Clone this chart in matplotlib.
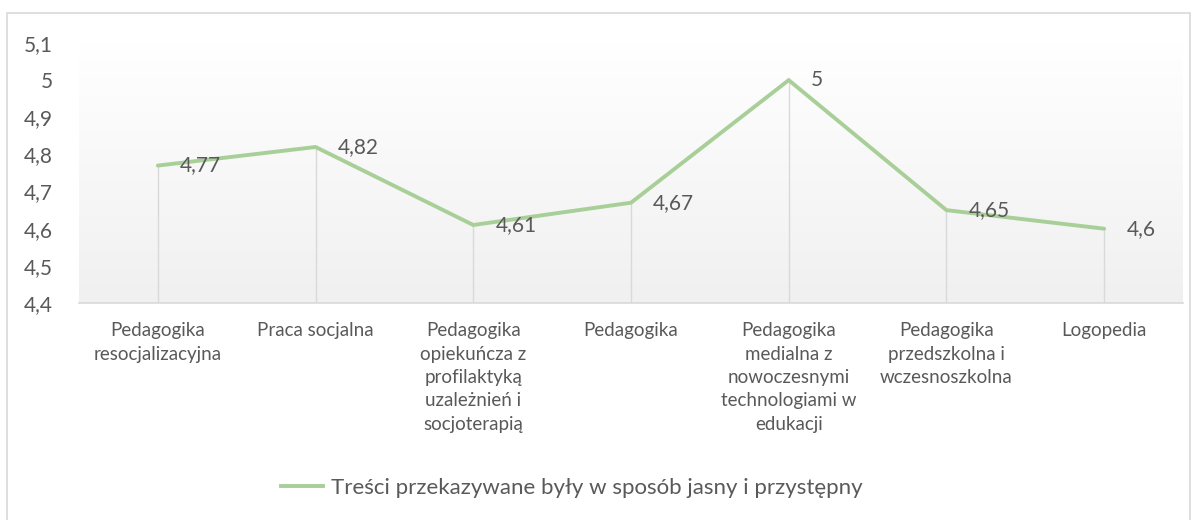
import matplotlib
matplotlib.use("Agg")
import matplotlib.pyplot as plt
import numpy as np
from matplotlib.patches import Rectangle
from matplotlib.lines import Line2D

categories = [
    "Pedagogika\nresocjalizacyjna",
    "Praca socjalna",
    "Pedagogika\nopiekuńcza z\nprofilaktyką\nuzależnień i\nsocjoterapią",
    "Pedagogika",
    "Pedagogika\nmedialna z\nnowoczesnymi\ntechnologiami w\nedukacji",
    "Pedagogika\nprzedszkolna i\nwczesnoszkolna",
    "Logopedia",
]
values = [4.77, 4.82, 4.61, 4.67, 5.0, 4.65, 4.6]
value_labels = ["4,77", "4,82", "4,61", "4,67", "5", "4,65", "4,6"]
yticks = [4.4, 4.5, 4.6, 4.7, 4.8, 4.9, 5.0, 5.1]
ytick_labels = ["4,4", "4,5", "4,6", "4,7", "4,8", "4,9", "5", "5,1"]
series_name = "Treści przekazywane były w sposób jasny i przystępny"

plt.rcParams['font.family'] = ['Lato', 'DejaVu Sans']
text_color = "#595959"
line_color = "#A9CF98"
grid_color = "#D9D9D9"

W, H = 1198, 520
fig = plt.figure(figsize=(W / 100, H / 100), dpi=100)
fig.patch.set_facecolor("white")

# outer chart border
fig.add_artist(Rectangle((7 / W, -0.05), (1190 - 7) / W, 1 - 13 / H + 0.05,
                         transform=fig.transFigure, fill=False,
                         edgecolor=grid_color, lw=1.2))

ax = fig.add_axes([79 / W, 1 - 303 / H, (1183 - 79) / W, (303 - 43) / H])
ax.set_facecolor("none")

x = np.arange(len(categories))

# gradient background in plot area
grad = np.linspace(0, 1, 256).reshape(-1, 1)
top = np.array([1.0, 1.0, 1.0])
bot = np.array([0xF0, 0xF0, 0xF0]) / 255
img = top + (bot - top) * grad[..., None]
img = img.reshape(256, 1, 3)
ax.imshow(img, extent=[0, 1, 0, 1], transform=ax.transAxes, aspect="auto",
          zorder=0, interpolation="bilinear")
ax.set_xlim(-0.5, len(categories) - 0.5)
ax.set_ylim(4.4, 5.1)

# drop lines
ax.vlines(x, 4.4, values, colors=grid_color, lw=1.0, zorder=1)

ax.plot(x, values, color=line_color, lw=2.8, solid_capstyle="round",
        solid_joinstyle="miter", zorder=3)

for xi, v, lab in zip(x, values, value_labels):
    ax.annotate(lab, (xi, v), xytext=(16, 0), textcoords="offset points",
                ha="left", va="center", fontsize=15, color=text_color, zorder=4)

for s in ["left", "right", "top"]:
    ax.spines[s].set_visible(False)
ax.spines["bottom"].set_color(grid_color)
ax.spines["bottom"].set_linewidth(1.2)

ax.set_yticks(yticks)
ax.set_yticklabels(ytick_labels)
ax.set_xticks(x)
ax.set_xticklabels(categories, linespacing=1.45)
ax.tick_params(axis="y", length=0, pad=19, labelsize=15, labelcolor=text_color)
ax.tick_params(axis="x", length=0, pad=14, labelsize=13.5, labelcolor=text_color)

handle = Line2D([0], [0], color=line_color, lw=2.8)
fig.legend([handle], [series_name], loc="center", bbox_to_anchor=(572 / W, 1 - 488 / H),
           frameon=False, fontsize=16, labelcolor=text_color, handlelength=1.9,
           handletextpad=0.36)

fig.savefig("out.png", dpi=100, facecolor="white")
